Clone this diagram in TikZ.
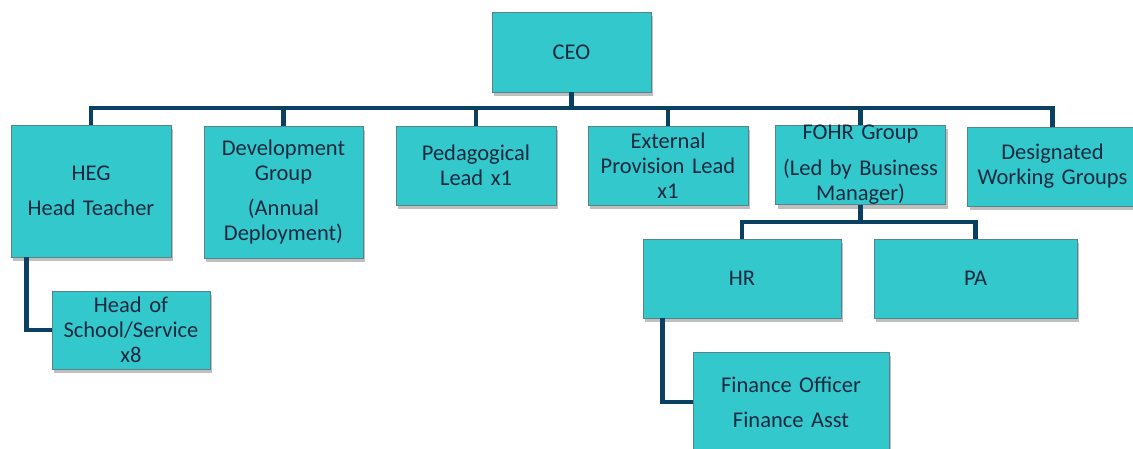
\documentclass[tikz,border=0pt]{standalone}
\usepackage{fontspec}
\setmainfont{Carlito}
\definecolor{BoxTeal}{rgb}{0.20,0.785,0.80}
\definecolor{BoxEdge}{rgb}{0.33,0.52,0.54}
\definecolor{LineNavy}{rgb}{0.04,0.25,0.38}
\definecolor{TextNavy}{rgb}{0.10,0.16,0.25}
\usetikzlibrary{shadows, calc}

\begin{document}
\begin{tikzpicture}[x=1pt, y=-1pt,
    orgbox/.style={draw=BoxEdge, line width=0.8pt, fill=BoxTeal, text=TextNavy,
        inner sep=0pt, align=center,
        font=\fontsize{22.5}{25}\selectfont,
        drop shadow={shadow xshift=2pt, shadow yshift=-4pt, fill=black, opacity=0.25}},
    link/.style={draw=LineNavy, line width=4.5pt}]

    \clip (0,0) rectangle (1133,448);

    % top box
    \node[orgbox, minimum width=159pt, minimum height=80pt, text width=150pt] (ceo) at (571.5,52) {CEO};

    % first row
    \node[orgbox, minimum width=160pt, minimum height=132pt, text width=156pt] (heg) at (91,191)
        {HEG\\[10pt]Head Teacher};
    \node[orgbox, minimum width=159pt, minimum height=132pt, text width=156pt] (dev) at (283.5,192)
        {Development\\Group\\[10pt](Annual\\Deployment)};
    \node[orgbox, minimum width=160pt, minimum height=79pt, text width=156pt] (ped) at (476,165.5)
        {Pedagogical\\Lead x1};
    \node[orgbox, minimum width=160pt, minimum height=79pt, text width=156pt] (ext) at (668,165.5)
        {External\\Provision Lead\\x1};
    \node[orgbox, minimum width=159pt, minimum height=78pt, text width=170pt] (fohr) at (860.5,165)
        {FOHR Group\\[11pt](Led by Business\\Manager)};
    \node[orgbox, minimum width=159pt, minimum height=79pt, text width=170pt] (desig) at (1052.5,166.5)
        {Designated\\Working Groups};

    % second row
    \node[orgbox, minimum width=198pt, minimum height=79pt, text width=190pt] (hr) at (742,278.5) {HR};
    \node[orgbox, minimum width=203pt, minimum height=79pt, text width=195pt] (pa) at (975.5,278.5) {PA};
    \node[orgbox, minimum width=158pt, minimum height=78pt, text width=156pt] (hos) at (131,330)
        {Head of\\School/Service\\x8};

    % bottom box
    \node[orgbox, minimum width=196pt, minimum height=100pt, text width=190pt] (fin) at (791,402)
        {Finance Officer\\[10pt]Finance Asst};

    % bus lines
    \coordinate (bus) at (571.5,108);
    \coordinate (sub) at (860.5,222);

    \foreach \n in {heg,dev,ped,ext,fohr,desig}
        \draw[link] (ceo.south) -- (bus) -| (\n.north);
    \foreach \n in {hr,pa}
        \draw[link] (fohr.south) -- (sub) -| (\n.north);

    % side links
    \draw[link] ($(heg.south west)+(16,0)$) |- (hos.west);
    \draw[link] ($(hr.south west)+(20,0)$) |- (fin.west);

\end{tikzpicture}
\end{document}
